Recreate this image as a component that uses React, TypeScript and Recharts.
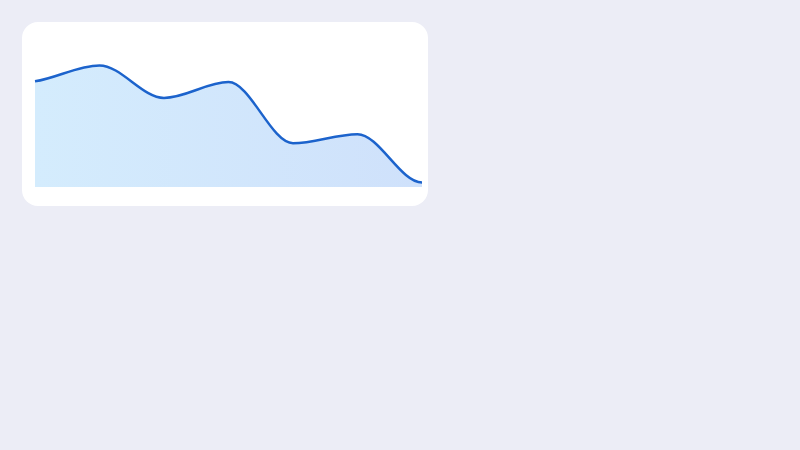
import React from "react";
import { AreaChart, Area, XAxis, YAxis } from "recharts";

const labels = ["1", "2", "3", "4", "5", "6", "7"];
const values = [70, 80.5, 59, 69.5, 29, 35, 3];

const data = labels.map((name, i) => ({ name, value: values[i] }));

// smooth curve: flat at peaks/valleys, soft start, flat finish
const smoothCurve = (context: any) => {
  let pts: number[][] = [];
  let line = NaN;

  const tangent = (i: number) => {
    const n = pts.length;
    if (n < 2) return 0;
    if (i === 0) {
      const s = (pts[1][1] - pts[0][1]) / (pts[1][0] - pts[0][0] || 1);
      return 0.6 * s;
    }
    if (i === n - 1) return 0;
    const a = (pts[i][1] - pts[i - 1][1]) / (pts[i][0] - pts[i - 1][0] || 1);
    const b = (pts[i + 1][1] - pts[i][1]) / (pts[i + 1][0] - pts[i][0] || 1);
    if (a * b <= 0) return 0;
    return (a + b) / 2;
  };

  return {
    areaStart() {
      line = 0;
    },
    areaEnd() {
      line = NaN;
    },
    lineStart() {
      pts = [];
    },
    point(x: number, y: number) {
      pts.push([+x, +y]);
    },
    lineEnd() {
      const n = pts.length;
      if (n) {
        if (line) context.lineTo(pts[0][0], pts[0][1]);
        else context.moveTo(pts[0][0], pts[0][1]);
        for (let i = 0; i < n - 1; i++) {
          const [x0, y0] = pts[i];
          const [x1, y1] = pts[i + 1];
          const d = (x1 - x0) / 3;
          const m0 = tangent(i);
          const m1 = tangent(i + 1);
          context.bezierCurveTo(x0 + d, y0 + m0 * d, x1 - d, y1 - m1 * d, x1, y1);
        }
      }
      if (line || (line !== 0 && n === 1)) context.closePath();
      line = 1 - line;
    },
  };
};

const App = () => {
  return (
    <div
      style={{
        position: "absolute",
        left: 0,
        top: 0,
        width: 800,
        height: 450,
        background: "#ECEDF6",
      }}
    >
      <div
        style={{
          position: "absolute",
          left: 22,
          top: 22,
          width: 406,
          height: 184,
          background: "#FFFFFF",
          borderRadius: 16,
        }}
      >
        <AreaChart
          width={406}
          height={184}
          data={data}
          margin={{ top: 14, right: 6, bottom: 19, left: 13 }}
        >
          <defs>
            <linearGradient id="fillGrad" x1="0" y1="0" x2="1" y2="0">
              <stop offset="0%" stopColor="#D4ECFD" />
              <stop offset="100%" stopColor="#CFE1FB" />
            </linearGradient>
          </defs>
          <XAxis dataKey="name" hide />
          <YAxis hide domain={[0, 100]} />
          <Area
            type={smoothCurve as any}
            dataKey="value"
            stroke="#1C63CC"
            strokeWidth={2.5}
            fill="url(#fillGrad)"
            fillOpacity={1}
            dot={false}
            activeDot={false}
            isAnimationActive={false}
          />
        </AreaChart>
      </div>
    </div>
  );
};

export default App;
